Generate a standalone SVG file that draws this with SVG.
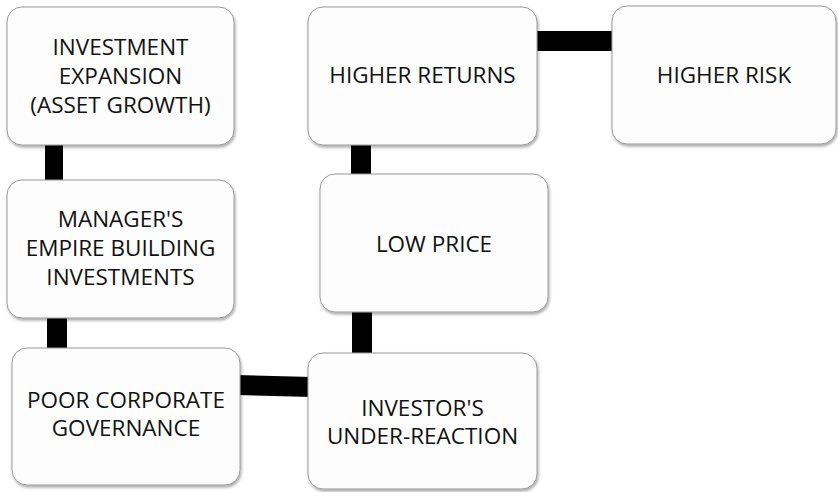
<svg xmlns="http://www.w3.org/2000/svg" width="838" height="492" viewBox="0 0 838 492">
<defs>
<filter id="sh" x="-10%" y="-10%" width="125%" height="125%">
<feDropShadow dx="1" dy="2" stdDeviation="1.5" flood-color="#000" flood-opacity="0.35"/>
</filter>
<style>
.box{fill:#fdfdfd;stroke:#9a9a9a;stroke-width:1;filter:url(#sh)}
.t{font-family:"Open Sans","Liberation Sans",sans-serif;font-size:22.5px;fill:#111;text-anchor:middle}
.c{fill:#000}
</style>
</defs>
<rect width="838" height="492" fill="#fff"/>
<g id="connectors">
<rect class="c" x="45" y="140" width="18" height="44"/>
<rect class="c" x="47" y="313" width="20" height="39"/>
<polygon class="c" points="236,375 312,377 312,397 236,395"/>
<rect class="c" x="352" y="307" width="20" height="50"/>
<rect class="c" x="351" y="140" width="20" height="38"/>
<rect class="c" x="532" y="31" width="84" height="20"/>
</g>
<g id="n1"><rect class="box" x="7" y="7" width="227" height="138" rx="15"/>
<text class="t" x="120.5" y="55">INVESTMENT</text><text class="t" x="120.5" y="84">EXPANSION</text><text class="t" x="120.5" y="113">(ASSET GROWTH)</text></g>
<g id="n2"><rect class="box" x="7" y="180" width="227" height="138" rx="15"/>
<text class="t" x="120.5" y="227">MANAGER'S</text><text class="t" x="120.5" y="256">EMPIRE BUILDING</text><text class="t" x="120.5" y="285">INVESTMENTS</text></g>
<g id="n3"><rect class="box" x="12" y="348" width="228" height="137" rx="15"/>
<text class="t" x="126" y="408">POOR CORPORATE</text><text class="t" x="126" y="436">GOVERNANCE</text></g>
<g id="n4"><rect class="box" x="308" y="353" width="229" height="136" rx="15"/>
<text class="t" x="422.5" y="416">INVESTOR'S</text><text class="t" x="422.5" y="444">UNDER-REACTION</text></g>
<g id="n5"><rect class="box" x="320" y="174" width="228" height="138" rx="15"/>
<text class="t" x="434" y="252">LOW PRICE</text></g>
<g id="n6"><rect class="box" x="308" y="7" width="229" height="138" rx="15"/>
<text class="t" x="422.5" y="83">HIGHER RETURNS</text></g>
<g id="n7"><rect class="box" x="612" y="6" width="224" height="138" rx="15"/>
<text class="t" x="724" y="83">HIGHER RISK</text></g>
</svg>
